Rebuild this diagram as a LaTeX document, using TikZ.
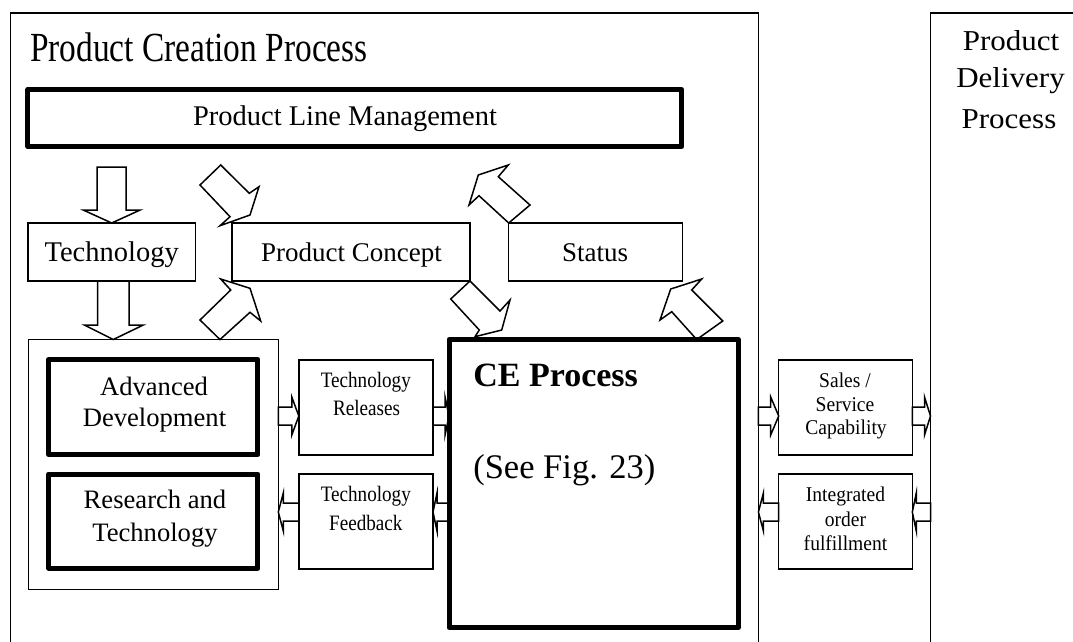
\documentclass[tikz,border=0pt]{standalone}
\usepackage{fontspec}
\usepackage{graphicx}
\setmainfont{Liberation Serif}
\usetikzlibrary{calc}
\newcommand\myfs[1]{\fontsize{#1}{#1}\selectfont}
% right-pointing hollow block arrow: #1 start anchor, #2 tip anchor, #3 y, #4 head length
\newcommand\rarr[4]{%
  \draw[barrow] ($(#1 |- 0,#3)+(0,-9)$) -- ($(#2 |- 0,#3)+(-#4,-9)$) -- ($(#2 |- 0,#3)+(-#4,-19)$)
    -- (#2 |- 0,#3) -- ($(#2 |- 0,#3)+(-#4,19)$) -- ($(#2 |- 0,#3)+(-#4,9)$) -- ($(#1 |- 0,#3)+(0,9)$) -- cycle;}
% left-pointing hollow block arrow: #1 start anchor, #2 tip anchor, #3 y, #4 head length
\newcommand\larr[4]{%
  \draw[barrow] ($(#1 |- 0,#3)+(0,-9)$) -- ($(#2 |- 0,#3)+(#4,-9)$) -- ($(#2 |- 0,#3)+(#4,-19)$)
    -- (#2 |- 0,#3) -- ($(#2 |- 0,#3)+(#4,19)$) -- ($(#2 |- 0,#3)+(#4,9)$) -- ($(#1 |- 0,#3)+(0,9)$) -- cycle;}
\begin{document}
\begin{tikzpicture}[x=1pt,y=-1pt,
  frame/.style={draw, line width=1.6pt, inner sep=0pt, outer sep=0pt},
  thinbox/.style={draw, line width=1.5pt, inner sep=0pt, outer sep=0pt},
  thickbox/.style={draw, line width=5pt, line join=round, inner sep=0pt, outer sep=0pt},
  barrow/.style={draw, line width=1.5pt, line join=miter},
  lbl/.style={inner sep=0pt, outer sep=0pt, anchor=base}]
\useasboundingbox (0,0) rectangle (1073,641);
\fill[white] (0,0) rectangle (1073,641);

% boxes
\node[frame, minimum width=748pt, minimum height=640pt] (pcp) at (384.4,333) {};
\node[frame, minimum width=300pt, minimum height=640pt] (pdp) at (1080.5,333) {};
\node[thickbox, minimum width=653.7pt, minimum height=57pt] (plm) at (354.8,118) {};
\node[thinbox, minimum width=167.5pt, minimum height=58pt] (tech) at (111.7,252) {};
\node[thinbox, minimum width=238pt, minimum height=58pt] (pc) at (351,252) {};
\node[thinbox, minimum width=174pt, minimum height=58pt] (status) at (595.7,252) {};
\node[thinbox, minimum width=249.6pt, minimum height=250pt] (cont) at (153.5,464.5) {};
\node[thickbox, minimum width=209.3pt, minimum height=95pt] (adv) at (153.3,407) {};
\node[thickbox, minimum width=209.3pt, minimum height=94pt] (rt) at (153.3,521) {};
\node[thinbox, minimum width=134.2pt, minimum height=95.2pt] (trel) at (365.9,407.4) {};
\node[thinbox, minimum width=134.2pt, minimum height=95.2pt] (tfb) at (365.9,521.4) {};
\node[thickbox, minimum width=289.3pt, minimum height=288pt] (ce) at (593.7,483.5) {};
\node[thinbox, minimum width=133.6pt, minimum height=95.2pt] (sales) at (845.5,407.4) {};
\node[thinbox, minimum width=133.6pt, minimum height=95.2pt] (iof) at (845.5,521.4) {};

% block arrows
% Product Line Management -> Technology
\draw[barrow] ($(tech.north)+(-14.5,-56)$) -- ($(tech.north)+(14.5,-56)$) -- ($(tech.north)+(14.5,-13)$)
  -- ($(tech.north)+(28.5,-13)$) -- (tech.north) -- ($(tech.north)+(-28.5,-13)$) -- ($(tech.north)+(-14.5,-13)$) -- cycle;
% Technology -> Advanced Development / Research container
\coordinate (tc) at ($(tech.south |- cont.north)+(1.6,0)$);
\draw[barrow] ($(tc)+(-15.8,-58.5)$) -- ($(tc)+(15.8,-58.5)$) -- ($(tc)+(15.8,-14.5)$)
  -- ($(tc)+(30,-14.5)$) -- (tc) -- ($(tc)+(-29,-14.5)$) -- ($(tc)+(-15.8,-14.5)$) -- cycle;
% Product Line Management -> Product Concept
\draw[barrow] (200,185) -- (220.7,165) -- (249.3,193.3) -- (259,186.7) -- (250,215) -- (220,225.7) -- (230,216.7) -- cycle;
% Status -> Product Line Management
\draw[barrow] (status.north west) -- (530,205) -- (498.3,176.7) -- (508.3,165) -- (478.3,175) -- (469,205) -- (479,195.7) -- cycle;
% container -> Product Concept
\draw[barrow] (200,320) -- (220,339.5) -- (250,312.3) -- (260.7,321) -- (250,288.3) -- (220.7,279) -- (230.7,290) -- cycle;
% Product Concept -> CE Process
\draw[barrow] (pc.south east) -- (450.7,299) -- (479.3,330) -- (475,336.7) -- (501.7,330) -- (510,300) -- (500,311) -- cycle;
% CE Process -> Status
\draw[barrow] (696.7,339.5) -- (722.7,321) -- (691.7,290) -- (701.7,279) -- (670.7,289) -- (660,320) -- (671.7,311.7) -- cycle;
% horizontal block arrows
\rarr{cont.east}{trel.west}{416}{7}
\rarr{trel.east}{ce.west}{416}{4}
\larr{tfb.west}{cont.east}{512}{5}
\larr{ce.west}{tfb.east}{512}{4}
\rarr{pcp.east}{sales.west}{416}{8}
\rarr{sales.east}{pdp.west}{416}{6}
\larr{iof.west}{pcp.east}{512}{5}
\larr{pdp.west}{iof.east}{512}{4}

% texts
\node[lbl, anchor=base west] (ttl) at (30,61) {\myfs{33.4}\scalebox{1}[1.24]{Product Creation Process}};
\node[lbl] (plmT) at (345,125) {\myfs{28.5}Product Line Management};
\node[lbl] (techT) at (111.7,261) {\myfs{28.5}Technology};
\node[lbl] (pcT) at (351.5,261) {\myfs{27}Product Concept};
\node[lbl] (statusT) at (595,261) {\myfs{27}Status};
\node[lbl] (advT1) at (154,395) {\myfs{26.6}Advanced};
\node[lbl] (advT2) at (154.5,426.7) {\myfs{26.6}Development};
\node[lbl] (rtT1) at (155,508.3) {\myfs{26.6}Research and};
\node[lbl] (rtT2) at (155,541.7) {\myfs{26.6}Technology};
\node[lbl] (trelT1) at (365.8,387.3) {\myfs{22}\scalebox{0.87}[1]{Technology}};
\node[lbl] (trelT2) at (366.5,415) {\myfs{22}\scalebox{0.87}[1]{Releases}};
\node[lbl] (tfbT1) at (365.8,501.7) {\myfs{22}\scalebox{0.87}[1]{Technology}};
\node[lbl] (tfbT2) at (365.8,530) {\myfs{22}\scalebox{0.87}[1]{Feedback}};
\node[lbl] (salesT1) at (845,387.3) {\myfs{21}\scalebox{0.93}[1]{Sales /}};
\node[lbl] (salesT2) at (845,411) {\myfs{21}\scalebox{0.93}[1]{Service}};
\node[lbl] (salesT3) at (846,434.3) {\myfs{21}\scalebox{0.93}[1]{Capability}};
\node[lbl] (iofT1) at (845.5,501) {\myfs{21}\scalebox{0.93}[1]{Integrated}};
\node[lbl] (iofT2) at (845.5,526.5) {\myfs{21}\scalebox{0.93}[1]{order}};
\node[lbl] (iofT3) at (845.5,550) {\myfs{21}\scalebox{0.93}[1]{fulfillment}};
\node[lbl, anchor=base west] (ceT1) at (473.3,386) {\myfs{34}\bfseries CE Process};
\node[lbl, anchor=base west] (ceT2) at (473.3,478.3) {\myfs{34.5}(See Fig. 23)};
\node[lbl] (pdpT1) at (1011,50) {\myfs{31}\scalebox{1}[0.93]{Product}};
\node[lbl] (pdpT2) at (1010.5,87.3) {\myfs{31}\scalebox{1}[0.93]{Delivery}};
\node[lbl] (pdpT3) at (1009,128.3) {\myfs{31}\scalebox{1}[0.93]{Process}};
% blank the strip between the title and the Product Line Management box
\fill[white] (280,66) rectangle (320,86.6);
\end{tikzpicture}
\end{document}
